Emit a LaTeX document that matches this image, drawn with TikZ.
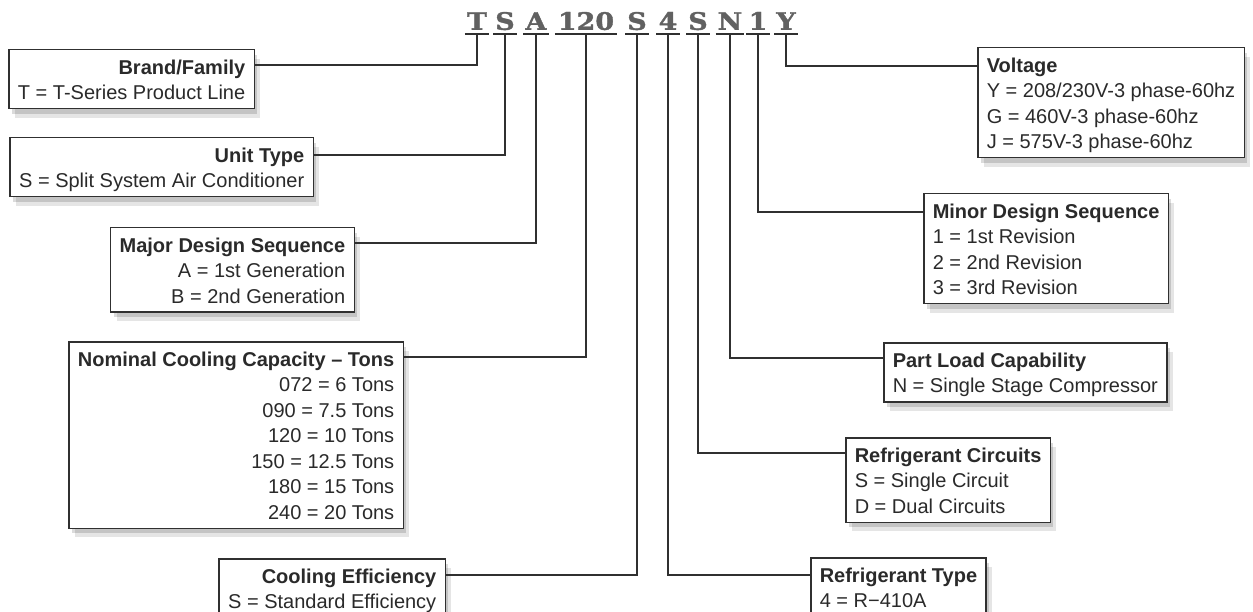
\documentclass[tikz,border=0pt]{standalone}
\usepackage{fontspec}
\setmainfont{Liberation Sans}
\newfontfamily\codefont{DejaVu Serif}[BoldFeatures={FakeBold=1.6, FakeStretch=1.12}]
\usetikzlibrary{shadows}
\definecolor{ink}{HTML}{2A2A2A}
\definecolor{lineclr}{HTML}{303030}
\newcommand{\ls}{\rule[-5pt]{0pt}{25.5pt}}
\tikzset{
  box/.style={draw=lineclr, line width=1.5pt, fill=white, inner xsep=9pt, inner ysep=4pt,
    text=ink, font=\fontsize{20}{25.5}\selectfont,
    drop shadow={shadow xshift=6pt, shadow yshift=-9pt, opacity=0.10, fill=black},
    drop shadow={shadow xshift=3pt, shadow yshift=-5pt, opacity=0.14, fill=black}},
  lbox/.style={box, align=right, anchor=north east},
  rbox/.style={box, align=left, anchor=north west},
  codech/.style={font=\codefont\bfseries\fontsize{24}{24}\selectfont, text=black!62,
    inner xsep=2pt, inner ysep=4pt, text depth=0pt, anchor=south, minimum width=23pt},
  conn/.style={draw=lineclr, line width=1.6pt},
  uline/.style={draw=lineclr, line width=1.8pt},
}
\begin{document}
\begin{tikzpicture}[x=1pt, y=-1pt]
\clip (0,0) rectangle (1253,612);
\fill[white] (0,0) rectangle (1253,612);

% code letters
\node[codech] (cT)   at (477,34) {T};
\node[codech] (cS1)  at (505,34) {S};
\node[codech] (cA)   at (536,34) {A};
\node[codech, minimum width=62pt] (c120) at (586,34) {120};
\node[codech] (cS2)  at (637,34) {S};
\node[codech] (c4)   at (668,34) {4};
\node[codech] (cS3)  at (698,34) {S};
\node[codech] (cN)   at (730,34) {N};
\node[codech, minimum width=17pt] (c1)   at (758,34) {1};
\node[codech] (cY)   at (786,34) {Y};
\foreach \n in {cT,cS1,cA,c120,cS2,c4,cS3,cN,c1,cY}
  \draw[uline] (\n.south west) -- (\n.south east);

% left boxes
\node[lbox] (brand) at (255,49) {\ls\textbf{Brand/Family}\\\ls T = T-Series Product Line};
\node[lbox] (unit) at (314,137) {\ls\textbf{Unit Type}\\\ls S = Split System Air Conditioner};
\node[lbox] (major) at (355,227) {\ls\textbf{Major Design Sequence}\\\ls A = 1st Generation\\\ls B = 2nd Generation};
\node[lbox] (nominal) at (404,341) {\ls\textbf{Nominal Cooling Capacity – Tons}\\\ls 072 = 6 Tons\\\ls 090 = 7.5 Tons\\\ls 120 = 10 Tons\\\ls 150 = 12.5 Tons\\\ls 180 = 15 Tons\\\ls 240 = 20 Tons};
\node[lbox] (coolef) at (446,558) {\ls\textbf{Cooling Efficiency}\\\ls S = Standard Efficiency};

% right boxes
\node[rbox] (voltage) at (977,47) {\ls\textbf{Voltage}\\\ls Y = 208/230V-3 phase-60hz\\\ls G = 460V-3 phase-60hz\\\ls J = 575V-3 phase-60hz};
\node[rbox] (minor) at (923,193) {\ls\textbf{Minor Design Sequence}\\\ls 1 = 1st Revision\\\ls 2 = 2nd Revision\\\ls 3 = 3rd Revision};
\node[rbox] (partload) at (883,342) {\ls\textbf{Part Load Capability}\\\ls N = Single Stage Compressor};
\node[rbox] (refcirc) at (845,437) {\ls\textbf{Refrigerant Circuits}\\\ls S = Single Circuit\\\ls D = Dual Circuits};
\node[rbox] (reftype) at (810,557) {\ls\textbf{Refrigerant Type}\\\ls 4 = R−410A};

% connectors
\draw[conn] (cT.south)   |- ([yshift=-16pt]brand.north east);
\draw[conn] (cS1.south)  |- ([yshift=-18pt]unit.north east);
\draw[conn] (cA.south)   |- ([yshift=-16pt]major.north east);
\draw[conn] (c120.south) |- ([yshift=-16pt]nominal.north east);
\draw[conn] (cS2.south)  |- ([yshift=-17pt]coolef.north east);
\draw[conn] (c4.south)   |- ([yshift=-18pt]reftype.north west);
\draw[conn] (cS3.south)  |- ([yshift=-16pt]refcirc.north west);
\draw[conn] (cN.south)   |- ([yshift=-16pt]partload.north west);
\draw[conn] (c1.south)   |- ([yshift=-19pt]minor.north west);
\draw[conn] (cY.south)   |- ([yshift=-19pt]voltage.north west);
\end{tikzpicture}
\end{document}
